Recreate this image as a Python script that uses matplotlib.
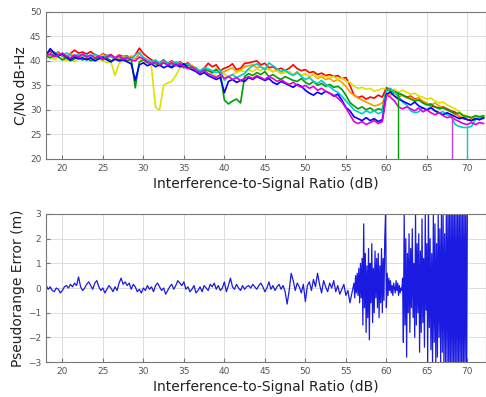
import numpy as np
import matplotlib.pyplot as plt

# C/No per satellite, sampled every 0.5 dB from 18 to 72 dB
isr_top = np.arange(18, 72.01, 0.5)

cn0_red = [41.5, 42.0, 41.2, 41.8, 41.0, 40.5, 41.5, 42.2, 41.6, 41.8,
           41.4, 41.9, 41.2, 40.8, 41.5, 41.0, 41.3, 40.6, 41.2, 40.9,
           41.0, 40.5, 41.2, 42.6, 41.5, 40.8, 40.2, 39.8, 39.6, 40.2,
           39.5, 40.0, 39.4, 39.8, 39.2, 39.6, 38.8, 38.6, 37.5, 38.5,
           39.5, 38.8, 39.2, 38.0, 38.5, 38.8, 39.4, 38.2, 38.5, 39.5,
           39.6, 39.8, 40.0, 39.2, 39.5, 38.6, 38.8, 38.2, 38.5, 38.0,
           38.5, 39.2, 38.4, 38.0, 38.2, 37.6, 37.8, 37.2, 37.5, 37.0,
           37.2, 36.8, 37.0, 36.4, 36.6, 35.0, 33.0, 32.5, 32.8, 32.2,
           32.6, 32.4, 33.0, 32.6, 34.5, 34.2, 33.8, 33.4, 33.0, 32.6,
           32.8, 32.2, 32.4, 31.6, 31.2, 30.8, 30.6, 30.4, 30.6, 30.2,
           29.8, 29.5, 28.6, 28.2, 28.0, 27.8, 28.2, 28.0, 28.4]

cn0_yellow = [40.5, 41.0, 40.2, 40.8, 40.4, 40.0, 40.6, 39.8, 40.5, 40.2,
              40.6, 40.2, 40.8, 40.4, 40.0, 39.6, 39.8, 37.0, 39.5, 40.0,
              40.4, 39.8, 40.2, 40.6, 39.5, 39.8, 38.8, 30.5, 30.0, 35.0,
              35.5, 35.8, 37.0, 38.5, 39.0, 38.6, 39.2, 38.4, 38.0, 37.8,
              37.2, 37.6, 36.8, 37.0, 37.4, 36.6, 37.2, 37.6, 38.0, 37.8,
              38.2, 37.8, 38.4, 38.0, 38.6, 38.2, 37.8, 38.0, 37.4, 37.6,
              37.8, 37.2, 37.6, 37.0, 37.4, 36.8, 37.2, 36.6, 37.0, 36.8,
              36.6, 36.8, 36.2, 36.6, 35.8, 35.6, 34.8, 34.4, 34.6, 34.2,
              34.4, 33.8, 34.0, 34.4, 34.2, 33.8, 34.2, 33.6, 34.0, 33.6,
              33.2, 33.4, 32.8, 32.6, 32.2, 32.4, 31.8, 31.4, 31.6, 31.0,
              30.6, 30.2, 29.6, 29.0, 28.8, 28.4, 28.6, 28.4, 28.6]

cn0_green = [41.0, 40.6, 41.2, 40.8, 40.2, 40.6, 40.0, 40.4, 40.8, 40.2,
             40.6, 40.0, 40.4, 40.8, 40.2, 40.6, 40.0, 40.4, 40.2, 40.6,
             40.0, 40.4, 34.5, 39.8, 40.2, 39.6, 39.8, 39.4, 39.0, 39.6,
             39.2, 38.8, 39.4, 39.0, 38.6, 39.2, 38.8, 38.4, 37.8, 38.2,
             38.0, 37.6, 38.2, 37.4, 32.0, 31.2, 31.8, 32.2, 31.4, 36.8,
             37.4, 37.0, 37.6, 37.2, 37.8, 36.8, 37.2, 36.6, 36.2, 36.8,
             36.4, 36.0, 35.8, 36.4, 35.6, 35.2, 35.8, 35.0, 35.4, 34.8,
             35.2, 34.6, 34.8, 34.2, 33.0, 31.5, 30.8, 30.2, 30.6, 30.0,
             30.4, 29.8, 30.2, 30.0, 34.2, 33.8, 33.6, 33.4, 33.0, 32.6,
             32.2, 31.8, 32.0, 31.4, 31.0, 31.2, 30.6, 30.2, 30.4, 30.0,
             29.6, 29.2, 29.4, 28.8, 28.6, 28.4, 28.8, 28.6, 28.8]

cn0_blue = [41.2, 42.5, 41.6, 41.0, 41.4, 40.8, 40.2, 40.8, 40.4, 40.6,
            40.2, 40.6, 40.0, 40.4, 40.8, 40.2, 39.8, 40.4, 40.0, 40.2,
            39.8, 39.4, 36.0, 39.2, 39.6, 39.0, 39.4, 38.8, 39.2, 38.6,
            39.0, 38.6, 39.2, 38.8, 39.4, 38.6, 38.2, 37.8, 37.2, 37.6,
            37.0, 36.6, 36.2, 36.6, 33.5, 35.8, 36.2, 35.6, 36.0, 35.8,
            36.6, 36.2, 36.8, 36.4, 36.0, 36.4, 35.6, 35.2, 35.8, 35.4,
            35.0, 34.6, 35.2, 34.8, 34.0, 33.4, 33.0, 33.6, 33.2, 33.8,
            33.4, 32.8, 33.2, 32.0, 30.5, 29.8, 28.6, 28.2, 27.8, 28.4,
            27.8, 28.2, 27.6, 28.0, 33.2, 33.6, 32.8, 32.2, 31.8, 31.4,
            31.0, 31.6, 30.8, 30.4, 30.0, 30.4, 29.8, 29.4, 29.0, 29.4,
            29.0, 28.6, 28.2, 28.4, 28.0, 27.8, 28.2, 28.0, 28.4]

cn0_cyan = [41.6, 41.2, 41.8, 41.4, 41.0, 41.6, 41.2, 40.8, 41.4, 41.0,
            41.2, 40.8, 41.4, 41.0, 40.6, 41.2, 40.8, 40.4, 41.0, 40.6,
            40.8, 40.4, 41.2, 41.8, 40.6, 40.2, 39.8, 40.2, 39.6, 40.0,
            39.6, 39.2, 39.8, 39.4, 39.0, 39.4, 38.8, 38.4, 38.0, 38.6,
            38.4, 38.0, 37.6, 38.2, 36.0, 36.8, 37.2, 36.6, 37.0, 37.4,
            38.4, 39.0, 39.4, 38.8, 38.2, 39.6, 39.0, 38.4, 37.8, 38.2,
            37.4, 37.0, 37.6, 36.8, 36.2, 36.6, 35.8, 35.4, 36.0, 35.2,
            34.8, 34.0, 33.6, 32.8, 31.8, 31.0, 30.0, 29.6, 29.2, 29.8,
            29.4, 29.8, 29.2, 29.6, 33.8, 34.4, 33.6, 32.8, 31.6, 31.0,
            29.8, 29.4, 29.6, 30.4, 30.0, 30.6, 29.8, 29.4, 29.6, 29.0,
            28.6, 27.0, 26.6, 26.4, 26.4, 26.6, 28.0, 28.4, 28.2]

cn0_magenta = [41.0, 41.4, 40.8, 41.2, 41.6, 41.0, 40.6, 41.2, 40.8, 41.4,
               40.8, 41.2, 40.6, 41.0, 40.4, 40.8, 41.2, 40.6, 41.0, 40.4,
               40.6, 40.2, 40.0, 40.8, 40.4, 39.8, 39.4, 39.8, 39.2, 39.6,
               39.2, 39.6, 39.0, 39.4, 38.8, 38.4, 38.8, 38.0, 37.6, 38.0,
               37.4, 37.0, 36.6, 37.2, 36.4, 36.8, 36.2, 36.6, 36.0, 36.4,
               36.8, 36.4, 37.0, 36.6, 36.2, 36.8, 36.4, 35.8, 36.2, 35.6,
               35.2, 35.6, 35.0, 34.6, 35.0, 34.4, 34.8, 34.0, 34.4, 33.8,
               33.4, 33.0, 32.4, 31.6, 30.4, 29.0, 27.6, 27.2, 27.6, 27.0,
               27.4, 27.8, 27.2, 27.6, 33.0, 32.6, 31.8, 30.6, 30.2, 30.6,
               30.2, 29.8, 30.4, 29.6, 30.0, 29.4, 29.0, 29.4, 28.8, 28.4,
               28.6, 28.0, 27.6, 27.2, 27.0, 27.4, 27.0, 27.4, 27.2]

cn0_orange = [41.8, 41.4, 41.0, 41.6, 41.2, 40.8, 41.4, 41.0, 41.2, 40.8,
              41.0, 40.6, 41.2, 40.8, 41.4, 40.6, 41.0, 40.2, 40.6, 41.0,
              40.6, 41.0, 40.4, 41.4, 40.8, 40.0, 39.6, 40.0, 39.4, 39.8,
              39.4, 39.8, 39.2, 39.6, 38.8, 39.2, 38.6, 38.2, 37.8, 38.2,
              38.0, 37.8, 38.4, 37.6, 37.8, 38.2, 38.6, 37.8, 38.2, 38.8,
              39.0, 39.2, 38.6, 38.8, 38.2, 38.4, 37.8, 38.0, 37.4, 37.8,
              37.6, 37.2, 37.8, 37.0, 37.4, 36.8, 37.2, 36.4, 36.8, 36.2,
              36.4, 35.8, 36.2, 35.6, 34.8, 33.6, 33.0, 32.4, 32.0, 31.6,
              31.2, 30.8, 31.0, 31.4, 33.4, 33.0, 33.4, 32.6, 33.0, 32.4,
              32.6, 32.0, 32.4, 31.8, 31.4, 31.0, 31.4, 30.8, 30.4, 30.0,
              29.6, 29.0, 28.8, 28.4, 28.6, 28.2, 28.6, 28.4, 28.6]

top_series = [cn0_red, cn0_orange, cn0_yellow, cn0_green, cn0_cyan, cn0_blue, cn0_magenta]
top_colors = ['#ff0000', '#ff9900', '#e0e000', '#00a000', '#00cccc', '#0000ff', '#e000e0']

# short loss-of-lock drops to the bottom of the scale
drop_isr = [61.4, 68.1, 70.0]
drop_from = [33.4, 28.6, 26.4]
drop_colors = ['#00a000', '#c040e0', '#00cccc']

# pseudorange error: every 0.25 dB up to 56 dB, then every 0.1 dB to 70 dB
isr_quiet = np.arange(18, 55.99, 0.25)
err_quiet = [0.10, -0.05, 0.05, -0.10, -0.15, 0.00, -0.05, -0.20, -0.10, 0.05,
             0.10, 0.00, 0.15, 0.05, 0.20, 0.10, 0.45, 0.05, -0.10, 0.00,
             0.15, 0.25, 0.10, -0.05, 0.20, 0.30, 0.05, -0.10, 0.00, -0.20,
             -0.05, 0.10, 0.00, -0.15, 0.05, -0.10, 0.20, 0.40, 0.15, 0.25,
             0.10, 0.20, -0.05, 0.15, 0.05, -0.15, -0.05, -0.20, 0.00, -0.10,
             0.10, -0.05, 0.05, -0.15, 0.10, 0.20, 0.05, -0.10, 0.00, -0.25,
             -0.10, 0.05, 0.15, -0.05, 0.10, 0.30, 0.20, 0.10, 0.25, -0.05,
             0.05, -0.15, -0.05, 0.10, -0.20, -0.10, 0.05, -0.15, 0.10, 0.00,
             -0.10, 0.15, 0.05, 0.20, -0.05, 0.10, -0.10, 0.00, 0.25, -0.15,
             0.10, 0.40, 0.05, -0.05, 0.15, 0.00, -0.10, 0.10, -0.05, 0.05,
             0.10, 0.00, 0.15, 0.05, -0.05, 0.10, 0.20, 0.05, -0.15, 0.00,
             0.25, -0.05, 0.10, -0.10, 0.05, 0.15, -0.05, 0.10, -0.15, -0.65,
             -0.10, 0.60, 0.30, -0.10, 0.20, 0.05, -0.20, 0.15, -0.55, 0.10,
             0.25, -0.10, 0.35, 0.05, 0.60, 0.15, -0.20, 0.30, 0.05, -0.15,
             0.20, 0.00, 0.30, -0.15, 0.10, -0.25, -0.05, 0.15, -0.30, -0.10,
             -0.60, -0.20]

isr_noisy = np.arange(56, 70.01, 0.1)
err_noisy = [0.2, -0.4, 0.5, -0.2, 0.6, -0.3, 0.8, -0.6, 1.0, -0.4,
             1.2, -1.5, 2.6, -0.8, 1.4, -1.8, 0.9, -1.2, 1.6, -2.1,
             1.0, -0.6, 1.8, -1.4, 0.8, -1.0, 1.5, -0.4, 1.2, -0.8,
             1.4, -1.2, 0.9, -0.6, 1.6, -1.0, 1.2, -0.5, 2.0, 3.0,
             -0.8, 0.6, -0.3, 0.4, -0.1, 0.3, -0.2, 0.1, -0.3, 0.2,
             0.0, -0.2, 0.3, -0.1, 0.2, -0.3, 0.1, -0.2, 0.0, -0.1,
             0.4, -2.2, 3.0, -1.5, 2.0, -2.8, 1.4, -1.0, 2.2, -1.8,
             1.6, -0.8, 2.4, -1.2, 1.0, -2.0, 3.0, -1.5, 1.8, -1.0,
             2.2, -2.6, 1.5, -1.8, 2.8, -1.4, 1.2, -2.4, 3.0, -0.9,
             1.8, -3.0, 3.0, -1.6, 2.0, -2.5, 1.4, -3.0, 3.0, -2.2,
             2.6, -3.0, 1.8, -2.8, 3.0, -2.0, 2.4, -3.0, 3.0, -2.6,
             3.0, -3.0, 2.2, -3.0, 3.0, -3.0, 3.5, -3.5, 3.5, -3.5,
             3.5, -3.5, 3.5, -3.5, 3.5, -3.5, 3.5, -3.5, 3.5, -3.5,
             3.5, -3.5, 3.5, -3.5, 3.5, -3.5, 3.5, -3.5, 3.5, -3.5,
             3.5]

isr_err = np.concatenate([isr_quiet, isr_noisy])
err = np.concatenate([err_quiet, err_noisy])

xticks = np.arange(20, 71, 5)
xlabel = 'Interference-to-Signal Ratio (dB)'


def style_axes(ax):
    ax.set_xlim(18, 72.3)
    ax.set_xticks(xticks)
    ax.grid(True, color='#d8d8d8', linewidth=0.6)
    ax.set_axisbelow(True)
    ax.tick_params(direction='in', length=3, labelsize=6.5, labelcolor='#555555', color='#777777')
    for s in ax.spines.values():
        s.set_color('#777777')
        s.set_linewidth(0.8)
    ax.set_xlabel(xlabel, fontsize=10, color='#222222', labelpad=3)


fig = plt.figure(figsize=(4.86, 3.97), dpi=100)

ax1 = fig.add_axes([0.095, 0.600, 0.905, 0.370])
for vals, col in zip(top_series, top_colors):
    ax1.plot(isr_top, vals, color=col, linewidth=1.2)
ax1.vlines(drop_isr, 20, drop_from, colors=drop_colors, linewidth=1.0)
ax1.set_ylim(20, 50)
ax1.set_yticks(np.arange(20, 51, 5))
style_axes(ax1)
ax1.set_ylabel('C/No dB-Hz', fontsize=10, color='#222222', labelpad=2)

ax2 = fig.add_axes([0.095, 0.088, 0.905, 0.373])
ax2.plot(isr_err, err, color='#1a1ae0', linewidth=0.9)
ax2.set_ylim(-3, 3)
ax2.set_yticks(np.arange(-3, 4, 1))
style_axes(ax2)
ax2.set_ylabel('Pseudorange Error (m)', fontsize=10, color='#222222', labelpad=2)

fig.savefig('out.png', dpi=100)
